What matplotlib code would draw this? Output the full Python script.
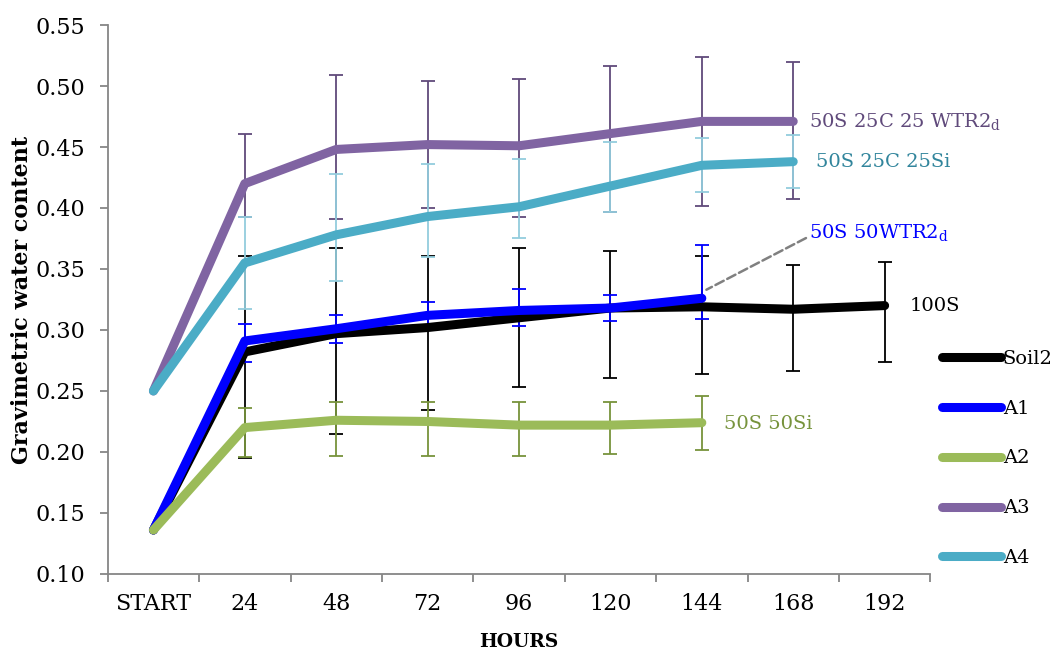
import numpy as np
import matplotlib
matplotlib.use('Agg')
import matplotlib.pyplot as plt

plt.rcParams['font.family'] = 'DejaVu Serif'
plt.rcParams['mathtext.fontset'] = 'dejavuserif'

hours = ['START', '24', '48', '72', '96', '120', '144', '168', '192']

# mean gravimetric water content per series
soil2 = [0.136, 0.282, 0.297, 0.302, 0.310, 0.318, 0.319, 0.317, 0.320]
a1 = [0.136, 0.291, 0.301, 0.312, 0.316, 0.318, 0.326]
a2 = [0.136, 0.220, 0.226, 0.225, 0.222, 0.222, 0.224]
a3 = [0.250, 0.420, 0.448, 0.452, 0.451, 0.461, 0.471, 0.471]
a4 = [0.250, 0.355, 0.378, 0.393, 0.401, 0.418, 0.435, 0.438]

# error bars (lower, upper)
soil2_lo = [0.0, 0.087, 0.082, 0.068, 0.057, 0.057, 0.055, 0.051, 0.046]
soil2_hi = [0.0, 0.079, 0.070, 0.059, 0.057, 0.047, 0.042, 0.036, 0.036]
a1_lo = [0.0, 0.017, 0.012, 0.011, 0.013, 0.011, 0.017]
a1_hi = [0.0, 0.014, 0.011, 0.011, 0.018, 0.011, 0.044]
a2_lo = [0.0, 0.024, 0.029, 0.028, 0.025, 0.024, 0.022]
a2_hi = [0.0, 0.016, 0.015, 0.016, 0.019, 0.019, 0.022]
a3_lo = [0.0, 0.027, 0.057, 0.052, 0.058, 0.064, 0.069, 0.064]
a3_hi = [0.0, 0.041, 0.061, 0.052, 0.055, 0.055, 0.053, 0.049]
a4_lo = [0.0, 0.038, 0.038, 0.033, 0.026, 0.021, 0.022, 0.022]
a4_hi = [0.0, 0.038, 0.050, 0.043, 0.039, 0.036, 0.022, 0.022]

series = [
    ('Soil2', soil2, soil2_lo, soil2_hi, '#000000', '#000000'),
    ('A1', a1, a1_lo, a1_hi, '#0000FF', '#0000FF'),
    ('A2', a2, a2_lo, a2_hi, '#9BBB59', '#77933C'),
    ('A3', a3, a3_lo, a3_hi, '#8064A2', '#604A7B'),
    ('A4', a4, a4_lo, a4_hi, '#4BACC6', '#93CDDD'),
]

fig = plt.figure(figsize=(10.56, 6.5), dpi=100)
ax = fig.add_axes([0.102, 0.117, 0.779, 0.8445])

for name, vals, lo, hi, col, ecol in series:
    x = np.arange(len(vals))
    ax.errorbar(x[1:], vals[1:], yerr=[lo[1:], hi[1:]], fmt='none', ecolor=ecol,
                elinewidth=1.3, capsize=5, capthick=1.3, zorder=2)
for name, vals, lo, hi, col, ecol in series:
    x = np.arange(len(vals))
    ax.plot(x, vals, color=col, lw=6.5, solid_capstyle='round',
            solid_joinstyle='round', label=name, zorder=3)

# series annotations
fs = 14
ax.text(7.17, 0.471, '50S 25C 25 WTR2$_\\mathrm{d}$', color='#604A7B', fontsize=fs, va='center')
ax.text(7.25, 0.438, '50S 25C 25Si', color='#31859C', fontsize=fs, va='center')
ax.annotate('50S 50WTR2$_\\mathrm{d}$', xy=(6.05, 0.333), xytext=(7.17, 0.380),
            color='#0000FF', fontsize=fs, va='center',
            arrowprops=dict(arrowstyle='-', ls='--', color='#808080', lw=1.8,
                            shrinkA=0, shrinkB=0, relpos=(0, 0.3)))
ax.text(8.27, 0.320, '100S', color='black', fontsize=fs, va='center')
ax.text(6.24, 0.223, '50S 50Si', color='#77933C', fontsize=fs, va='center')

ax.set_xlim(-0.5, 8.5)
ax.set_ylim(0.10, 0.55)
ax.set_yticks(np.arange(0.10, 0.551, 0.05))
ax.set_yticklabels(['%.2f' % v for v in np.arange(0.10, 0.551, 0.05)])
ax.set_xticks(np.arange(len(hours)))
ax.set_xticklabels(hours)
ax.set_xticks(np.arange(-0.5, 8.6, 1.0), minor=True)
ax.tick_params(axis='x', which='major', length=0, pad=14, labelsize=16)
ax.tick_params(axis='x', which='minor', length=6, color='#868686', width=1.3)
ax.tick_params(axis='y', length=6, color='#868686', width=1.3, pad=10, labelsize=16)

for s in ['top', 'right']:
    ax.spines[s].set_visible(False)
for s in ['left', 'bottom']:
    ax.spines[s].set_color('#868686')
    ax.spines[s].set_linewidth(1.3)

ax.set_xlabel('HOURS', fontsize=13.5, fontweight='bold', labelpad=13)
ax.set_ylabel('Gravimetric water content', fontsize=16, fontweight='bold')
ax.yaxis.set_label_coords(-0.091, 0.5)

leg = fig.legend(loc='upper left', bbox_to_anchor=(0.885, 0.474), frameon=False,
                 fontsize=fs, handlelength=3.0, handletextpad=0.1, labelspacing=1.64,
                 borderaxespad=0)

fig.savefig('out.png', dpi=100)
